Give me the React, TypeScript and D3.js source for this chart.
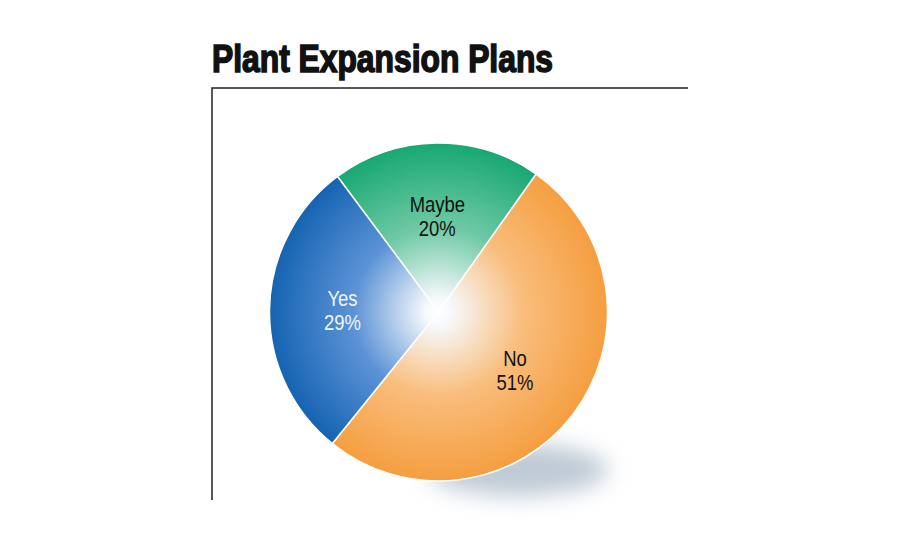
import React from "react";
import * as d3 from "d3";

const categories = ["Maybe", "No", "Yes"];
const values = [20, 51, 29];
const title = "Plant Expansion Plans";

const edgeColors = ["#17a872", "#f59e40", "#1563b2"];
const midColors = ["#70c9a5", "#f9bd7c", "#5c93d6"];
const textColors = ["#111", "#111", "#eef5fc"];

const W = 900;
const H = 550;
const cx = 438.5;
const cy = 312;
const R = 169;

export default function App() {
  const pie = d3
    .pie<number>()
    .sort(null)
    .value((d) => d)
    .startAngle((-36.7 * Math.PI) / 180)
    .endAngle(((360 - 36.7) * Math.PI) / 180);
  const arcs = pie(values);
  const arc = d3.arc<d3.PieArcDatum<number>>().innerRadius(0).outerRadius(R);
  const labelArc = d3
    .arc<d3.PieArcDatum<number>>()
    .innerRadius(96)
    .outerRadius(96);

  return (
    <svg
      width={W}
      height={H}
      style={{ position: "absolute", left: 0, top: 0, background: "#fff" }}
    >
      <defs>
        {categories.map((c, i) => (
          <radialGradient
            key={c}
            id={`g${i}`}
            gradientUnits="userSpaceOnUse"
            cx={0}
            cy={0}
            r={R}
          >
            <stop offset="0" stopColor="#ffffff" />
            <stop offset="0.08" stopColor="#f6f9fc" />
            <stop offset="0.5" stopColor={midColors[i]} />
            <stop offset="1" stopColor={edgeColors[i]} />
          </radialGradient>
        ))}
        <filter id="blur" x="-50%" y="-80%" width="200%" height="260%">
          <feGaussianBlur stdDeviation="11" />
        </filter>
      </defs>
      <text
        x={212}
        y={72}
        fontFamily="'Liberation Sans', Arial, sans-serif"
        fontWeight="bold"
        fontSize={38}
        fill="#111"
        stroke="#111"
        strokeWidth={1.6}
        textLength={341}
        lengthAdjust="spacingAndGlyphs"
      >
        {title}
      </text>
      <path d="M212,500 V88 H688" fill="none" stroke="#222" strokeWidth={1.5} />
      <ellipse
        cx={518}
        cy={470}
        rx={90}
        ry={26}
        fill="#c0cad5"
        filter="url(#blur)"
      />
      <g transform={`translate(${cx},${cy})`}>
        {arcs.map((a, i) => (
          <path
            key={categories[i]}
            d={arc(a) || ""}
            fill={`url(#g${i})`}
            stroke="#ffffff"
            strokeWidth={1.5}
          />
        ))}
        {arcs.map((a, i) => {
          const [lx, ly] = labelArc.centroid(a);
          return (
            <text
              key={"t" + categories[i]}
              transform={`translate(${lx},${ly}) scale(0.84,1)`}
              textAnchor="middle"
              fontFamily="'Liberation Sans', Arial, sans-serif"
              fontSize={22}
              fill={textColors[i]}
            >
              <tspan x={0} dy={-4}>
                {categories[i]}
              </tspan>
              <tspan x={0} dy={24}>
                {values[i]}%
              </tspan>
            </text>
          );
        })}
      </g>
    </svg>
  );
}
